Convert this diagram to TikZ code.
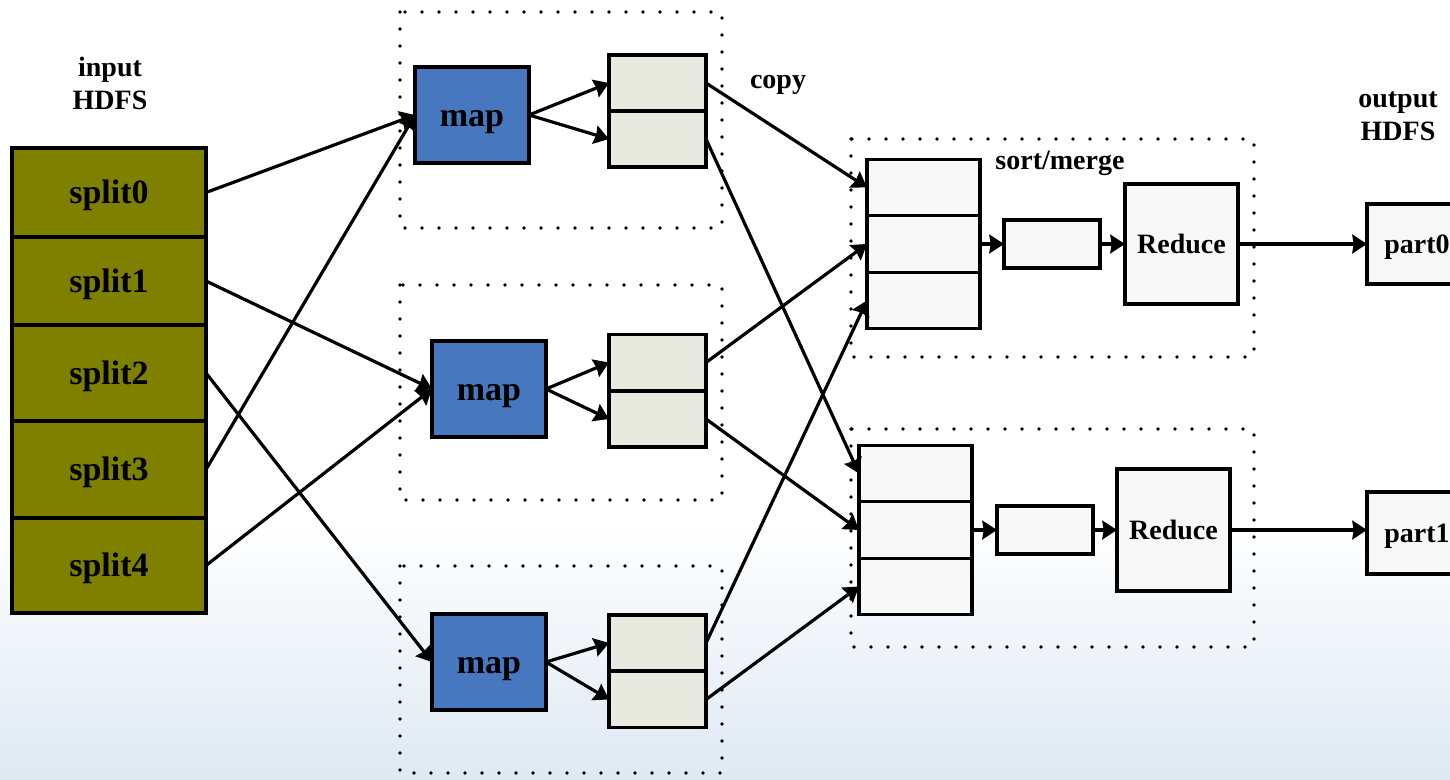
\documentclass[tikz,border=0pt]{standalone}
\usepackage{fontspec}
\setmainfont{Liberation Serif}
\usetikzlibrary{arrows.meta}
\definecolor{splitfill}{RGB}{128,128,0}
\definecolor{mapfill}{RGB}{71,119,190}
\definecolor{buffill}{RGB}{232,234,223}
\definecolor{redfill}{RGB}{248,248,248}
\definecolor{bgblue}{RGB}{222,233,243}
\begin{document}
\begin{tikzpicture}[x=0.75pt,y=-0.75pt,
  box/.style 2 args={draw=black, line width=2.4pt, minimum width=#1*0.75pt, minimum height=#2*0.75pt, inner sep=0pt, outer sep=0pt, text depth=0pt},
  bigtext/.style={font=\bfseries\fontsize{25.5}{30}\selectfont, text height=16.5pt},
  smalltext/.style={font=\bfseries\fontsize{21}{24.75}\selectfont, text height=14.25pt},
  splitbox/.style={box={194}{#1}, fill=splitfill, bigtext},
  mapbox/.style={box={114}{96}, fill=mapfill, bigtext},
  bufbox/.style={box={97}{56}, fill=buffill},
  stbox/.style={box={113}{56.7}, fill=redfill},
  smallbox/.style={box={96}{48}, fill=redfill},
  redbox/.style={box={113}{#1}, fill=redfill, smalltext},
  partbox/.style={box={100}{#1}, fill=redfill, smalltext},
  lbl/.style={font=\bfseries\fontsize{21}{24.75}\selectfont, align=center, inner sep=0pt},
  conn/.style={draw, line width=2.4pt, -{Stealth[length=11pt 0,width=14pt 0,inset=1pt]}},
  dotbox/.style={draw, line width=2.8pt, line cap=round, dash pattern=on 0pt off 12.75pt}
]
\useasboundingbox (0,0) rectangle (1450,779);
\clip (0,0) rectangle (1450,779);
\fill[white] (0,0) rectangle (1450,779);
\fill[top color=white, bottom color=bgblue] (0pt,-584.25pt) rectangle (1087.5pt,-390pt);

% dotted groups
\draw[dotbox] (400,12) rectangle (722,228);
\draw[dotbox] (400,285) rectangle (722,500);
\draw[dotbox] (400,566) rectangle (722,773);
\draw[dotbox] (851,139) rectangle (1254,357);
\draw[dotbox] (851,429) rectangle (1254,647);

% labels
\node[lbl] (inlbl) at (110,83) {input\\HDFS};
\node[lbl] (outlbl) at (1398,116) {output\\HDFS};
\node[lbl] (copylbl) at (778,85) {copy};
\node[lbl] (sortlbl) at (1060,163) {sort/merge};

% splits
\node[splitbox=89] (s0) at (109,192.5) {split0};
\node[splitbox=88] (s1) at (109,281) {split1};
\node[splitbox=96] (s2) at (109,373) {split2};
\node[splitbox=97] (s3) at (109,469.5) {split3};
\node[splitbox=95] (s4) at (109,565.5) {split4};

% maps
\node[mapbox] (m1) at (472,115) {map};
\node[mapbox] (m2) at (489,389) {map};
\node[mapbox] (m3) at (489,662) {map};

% map buffers
\node[bufbox] (b1a) at (657.5,83) {};
\node[bufbox] (b1b) at (657.5,139) {};
\node[bufbox] (b2a) at (657.5,362.5) {};
\node[bufbox] (b2b) at (657.5,419) {};
\node[bufbox] (b3a) at (657.5,643) {};
\node[bufbox] (b3b) at (657.5,699.5) {};

% reduce input stacks
\node[stbox] (t1a) at (923.5,187.5) {};
\node[stbox] (t1b) at (923.5,244) {};
\node[stbox] (t1c) at (923.5,300.5) {};
\node[stbox] (t2a) at (915.5,473.5) {};
\node[stbox] (t2b) at (915.5,530) {};
\node[stbox] (t2c) at (915.5,586.5) {};

% merged boxes
\node[smallbox] (q1) at (1052,244) {};
\node[smallbox] (q2) at (1045,530) {};

% reducers
\node[redbox=120] (r1) at (1181.5,244) {Reduce};
\node[redbox=122] (r2) at (1173.5,530) {Reduce};

% outputs
\node[partbox=80] (p0) at (1417,244) {part0};
\node[partbox=82] (p1) at (1417,533) {part1};

% split -> map
\draw[conn] (s0.east) -- (m1.west);
\draw[conn] (s3.east) -- (m1.west);
\draw[conn] (s1.east) -- (m2.west);
\draw[conn] (s4.east) -- (m2.west);
\draw[conn] (s2.east) -- (m3.west);

% map -> buffers
\draw[conn] (m1.east) -- (b1a.west);
\draw[conn] (m1.east) -- (b1b.west);
\draw[conn] (m2.east) -- (b2a.west);
\draw[conn] (m2.east) -- (b2b.west);
\draw[conn] (m3.east) -- (b3a.west);
\draw[conn] (m3.east) -- (b3b.west);

% copy
\draw[conn] (b1a.east) -- (t1a.west);
\draw[conn] (b1b.east) -- (t2a.west);
\draw[conn] (b2a.east) -- (t1b.west);
\draw[conn] (b2b.east) -- (t2b.west);
\draw[conn] (b3a.east) -- (t1c.west);
\draw[conn] (b3b.east) -- (t2c.west);

% sort/merge -> reduce -> output
\draw[conn] (t1b.east) -- (q1.west);
\draw[conn] (q1.east) -- (r1.west);
\draw[conn] (r1.east) -- (p0.west);
\draw[conn] (t2b.east) -- (q2.west);
\draw[conn] (q2.east) -- (r2.west);
\draw[conn] (r2.east) -- (r2.east -| p1.west);
\end{tikzpicture}
\end{document}
